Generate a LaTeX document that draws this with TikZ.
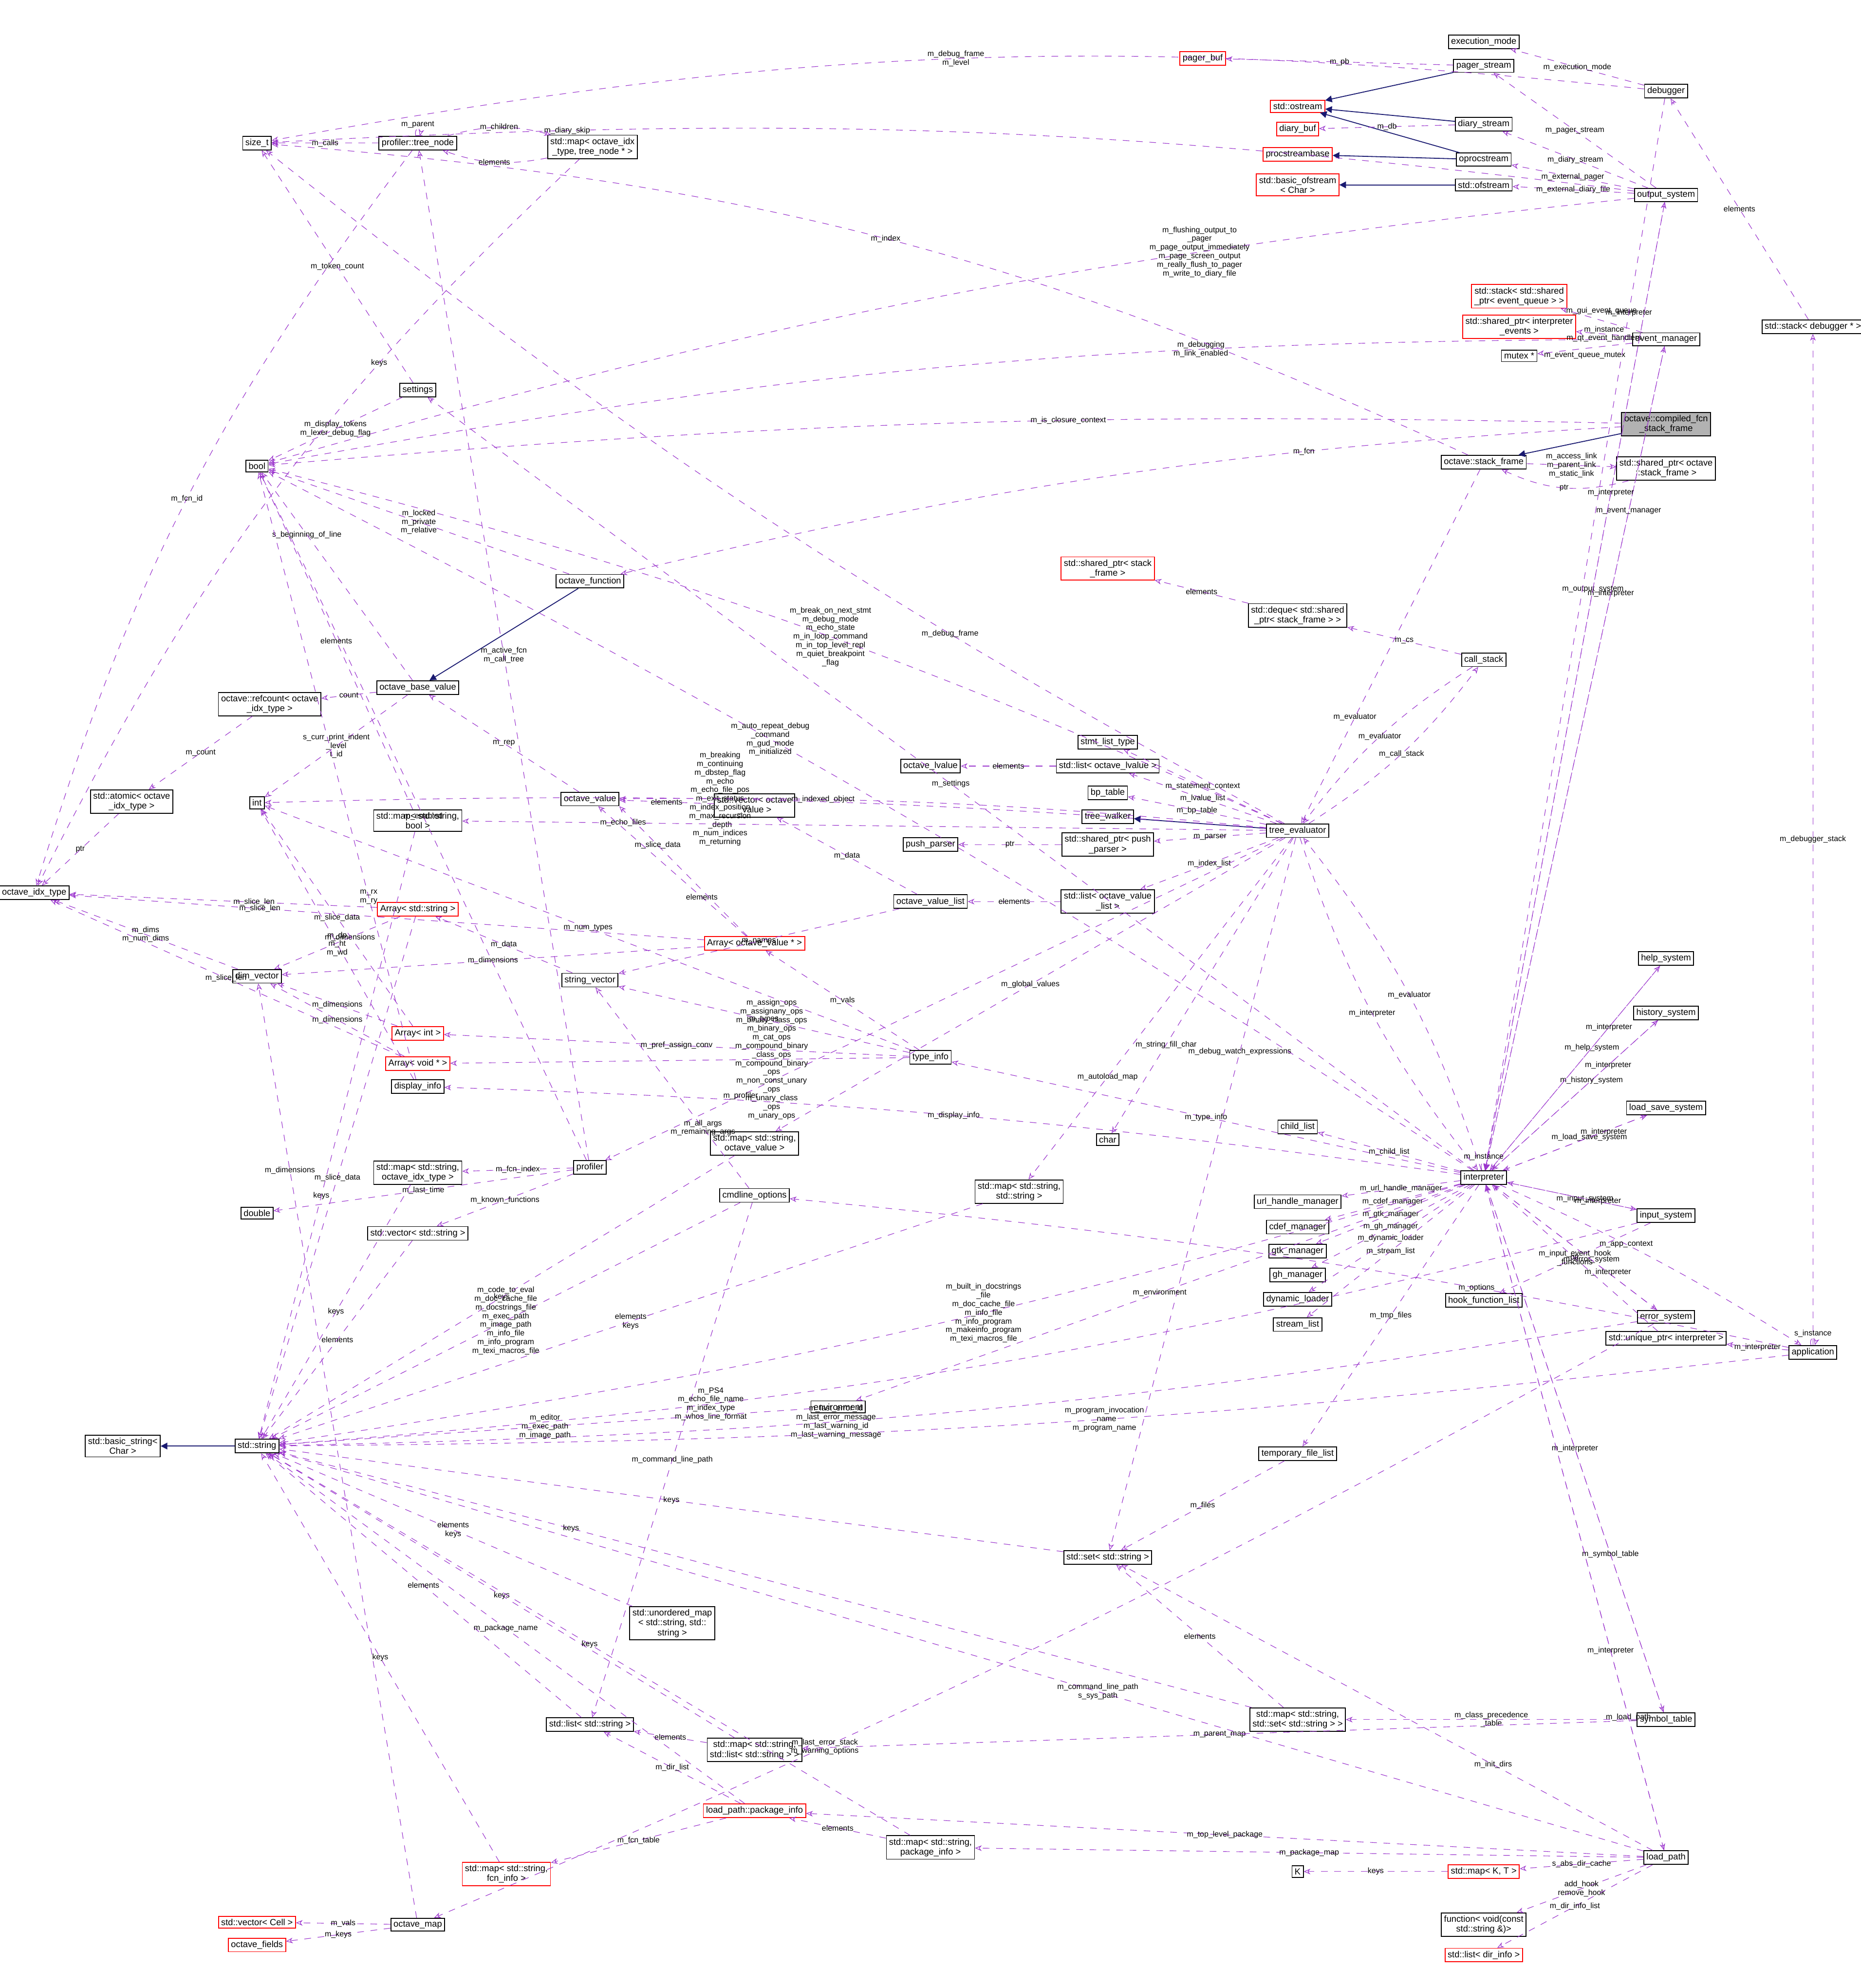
\documentclass[tikz,border=0pt]{standalone}
\usepackage{fontspec}
\setmainfont{Liberation Sans}
\usetikzlibrary{arrows.meta}
\definecolor{usecol}{RGB}{153,50,204}
\definecolor{inhcol}{RGB}{25,25,112}
\tikzset{
  cls/.style={draw=black,fill=white,inner sep=1.2pt,align=center,font=\fontsize{4}{4.4}\selectfont},
  redcls/.style={cls,draw=red},
  graycls/.style={cls,fill=black!30},
  use/.style={draw=usecol,dashed,line width=0.25pt,-{Stealth[open,length=3pt,width=2.5pt]}},
  inh/.style={draw=inhcol,line width=0.4pt,-{Triangle[length=3pt,width=3pt]}},
  lbl/.style={align=center,inner sep=0.5pt,font=\fontsize{3.5}{3.9}\selectfont,midway}
}
\begin{document}
\begin{tikzpicture}[x=0.02cm,y=-0.02cm]
\useasboundingbox (0,0) rectangle (1470,1570);
\begin{scope}[every node/.style={cls}]
  \node (exmode) at (1172,33) {execution\_mode};
  \node[redcls] (pagerbuf) at (950,46) {pager\_buf};
  \node (pagerstream) at (1172,52) {pager\_stream};
  \node (debugger) at (1316,72) {debugger};
  \node[redcls] (ostream) at (1025,84) {std::ostream};
  \node (diarystream) at (1172,98) {diary\_stream};
  \node[redcls] (diarybuf) at (1025,102) {diary\_buf};
  \node[redcls] (procbase) at (1025,122) {procstreambase};
  \node (oproc) at (1172,126) {oprocstream};
  \node[redcls] (basicofs) at (1025,146) {std::basic\_ofstream\\< Char >};
  \node (ofstream) at (1172,146) {std::ofstream};
  \node (outsys) at (1316,154) {output\_system};
  \node (sizet) at (203,113) {size\_t};
  \node (treenode) at (330,113) {profiler::tree\_node};
  \node (maptree) at (468,116) {std::map< octave\_idx\\\_type, tree\_node * >};
  \node[redcls] (stackeq) at (1200,234) {std::stack< std::shared\\\_ptr< event\_queue > >};
  \node[redcls] (shpevents) at (1200,258) {std::shared\_ptr< interpreter\\\_events >};
  \node (mutex) at (1200,281) {mutex *};
  \node (evmgr) at (1316,268) {event\_manager};
  \node (stackdbg) at (1432,258) {std::stack< debugger * >};
  \node[graycls] (compframe) at (1316,335) {octave::compiled\_fcn\\\_stack\_frame};
  \node (stackframe) at (1172,365) {octave::stack\_frame};
  \node (shpframe) at (1316,370) {std::shared\_ptr< octave\\::stack\_frame >};
  \node (settings) at (330,308) {settings};
  \node (bool) at (203,368) {bool};
  \node[redcls] (shpsf) at (875,449) {std::shared\_ptr< stack\\\_frame >};
  \node (deque) at (1025,486) {std::deque< std::shared\\\_ptr< stack\_frame > >};
  \node (callstack) at (1172,521) {call\_stack};
  \node (ovfcn) at (466,459) {octave\_function};
  \node (ovbase) at (330,543) {octave\_base\_value};
  \node (refcount) at (213,556) {octave::refcount< octave\\\_idx\_type >};
  \node (atomic) at (104,633) {std::atomic< octave\\\_idx\_type >};
  \node (int) at (203,634) {int};
  \node (idx) at (27,705) {octave\_idx\_type};
  \node (stmt) at (875,586) {stmt\_list\_type};
  \node (lvalue) at (735,605) {octave\_lvalue};
  \node (listlv) at (875,605) {std::list< octave\_lvalue >};
  \node (bptable) at (875,626) {bp\_table};
  \node (walker) at (875,645) {tree\_walker};
  \node (evaluator) at (1025,656) {tree\_evaluator};
  \node (ovalue) at (466,631) {octave\_value};
  \node (mapsb) at (330,648) {std::map< std::string,\\ bool >};
  \node (vecov) at (596,636) {std::vector< octave\\\_value >};
  \node (pushparser) at (735,667) {push\_parser};
  \node (shppp) at (875,667) {std::shared\_ptr< push\\\_parser >};
  \node (ovlist) at (735,712) {octave\_value\_list};
  \node (listovl) at (875,712) {std::list< octave\_value\\\_list >};
  \node[redcls] (arrovp) at (596,745) {Array< octave\_value * >};
  \node[redcls] (arrstr) at (330,718) {Array< std::string >};
  \node (strvec) at (466,774) {string\_vector};
  \node (dimvec) at (203,771) {dim\_vector};
  \node[redcls] (arrint) at (330,816) {Array< int >};
  \node[redcls] (arrvoid) at (330,840) {Array< void * >};
  \node (dispinfo) at (330,858) {display\_info};
  \node (typeinfo) at (735,835) {type\_info};
  \node (helpsys) at (1316,757) {help\_system};
  \node (histsys) at (1316,800) {history\_system};
  \node (char) at (875,900) {char};
  \node (childlist) at (1025,890) {child\_list};
  \node (lssys) at (1316,875) {load\_save\_system};
  \node (mapsov) at (596,903) {std::map< std::string,\\ octave\_value >};
  \node (interp) at (1172,930) {interpreter};
  \node (mapsidx) at (330,926) {std::map< std::string,\\ octave\_idx\_type >};
  \node (profiler) at (466,922) {profiler};
  \node (mapss) at (805,941) {std::map< std::string,\\ std::string >};
  \node (cmdopts) at (596,944) {cmdline\_options};
  \node (urlmgr) at (1025,949) {url\_handle\_manager};
  \node (double) at (203,958) {double};
  \node (vecstr) at (330,974) {std::vector< std::string >};
  \node (inputsys) at (1316,960) {input\_system};
  \node (cdefmgr) at (1025,969) {cdef\_manager};
  \node (gtkmgr) at (1025,988) {gtk\_manager};
  \node (ghmgr) at (1025,1007) {gh\_manager};
  \node (dynload) at (1025,1026) {dynamic\_loader};
  \node (hooklist) at (1172,1027) {hook\_function\_list};
  \node (errsys) at (1316,1040) {error\_system};
  \node (streamlist) at (1025,1046) {stream\_list};
  \node (uniqinterp) at (1316,1057) {std::unique\_ptr< interpreter >};
  \node (app) at (1432,1068) {application};
  \node (env) at (662,1111) {environment};
  \node (basicstr) at (97,1142) {std::basic\_string<\\ Char >};
  \node (string) at (203,1142) {std::string};
  \node (tmpfiles) at (1025,1148) {temporary\_file\_list};
  \node (setstr) at (875,1230) {std::set< std::string >};
  \node (umap) at (531,1282) {std::unordered\_map\\< std::string, std::\\string >};
  \node (liststr) at (466,1362) {std::list< std::string >};
  \node (mapsset) at (1025,1358) {std::map< std::string,\\ std::set< std::string > >};
  \node (symtab) at (1316,1358) {symbol\_table};
  \node (mapslist) at (596,1382) {std::map< std::string,\\ std::list< std::string > >};
  \node[redcls] (pkginfo) at (596,1430) {load\_path::package\_info};
  \node (mappkg) at (735,1459) {std::map< std::string,\\ package\_info >};
  \node[redcls] (mapfcn) at (400,1480) {std::map< std::string,\\ fcn\_info >};
  \node (K) at (1025,1478) {K};
  \node[redcls] (mapKT) at (1172,1478) {std::map< K, T >};
  \node (loadpath) at (1316,1467) {load\_path};
  \node (function) at (1172,1520) {function< void(const\\ std::string \&)>};
  \node (ovmap) at (330,1520) {octave\_map};
  \node[redcls] (veccell) at (203,1518) {std::vector< Cell >};
  \node[redcls] (ovfields) at (203,1536) {octave\_fields};
  \node[redcls] (listdir) at (1172,1544) {std::list< dir\_info >};
\end{scope}
% inheritance
\begin{scope}[every path/.style={inh}]
  \draw (pagerstream) -- (ostream);
  \draw (diarystream) -- (ostream);
  \draw (oproc) -- (ostream);
  \draw (oproc) -- (procbase);
  \draw (ofstream) -- (basicofs);
  \draw (compframe) -- (stackframe);
  \draw (evaluator) -- (walker);
  \draw (ovfcn) -- (ovbase);
  \draw (string) -- (basicstr);
\end{scope}
% usage
\begin{scope}[every path/.style={use}]
  \draw (debugger) -- node[lbl]{m\_execution\_mode} (exmode);
  \draw (pagerstream) -- node[lbl]{m\_pb} (pagerbuf);
  \draw (diarystream) -- node[lbl]{m\_db} (diarybuf);
  \draw (outsys) -- node[lbl]{m\_pager\_stream} (pagerstream);
  \draw (outsys) -- node[lbl]{m\_diary\_stream} (diarystream);
  \draw (outsys) -- node[lbl]{m\_external\_pager} (oproc);
  \draw (outsys) -- node[lbl]{m\_external\_diary\_file} (ofstream);
  \draw (debugger) to[bend right=8] node[lbl]{m\_debug\_frame\\m\_level} (sizet);
  \draw (outsys) to[bend right=5] node[lbl,pos=0.8]{m\_diary\_skip} (sizet);
  \draw (treenode) -- node[lbl]{m\_calls} (sizet);
  \draw (treenode) to[loop above,looseness=6] node[lbl]{m\_parent} (treenode);
  \draw (treenode) to[bend left=15] node[lbl]{m\_children} (maptree);
  \draw (maptree) to[bend left=15] node[lbl]{elements} (treenode);
  \draw (treenode) to[bend right=10] node[lbl]{m\_fcn\_id} (idx);
  \draw (maptree) to[bend right=10] node[lbl,pos=0.3]{keys} (idx);
  \draw (stackdbg) -- node[lbl]{elements} (debugger);
  \draw (app) -- node[lbl]{m\_debugger\_stack} (stackdbg);
  \draw (outsys) to[bend right=5] node[lbl,pos=0.3]{m\_flushing\_output\_to\\\_pager\\m\_page\_output\_immediately\\m\_page\_screen\_output\\m\_really\_flush\_to\_pager\\m\_write\_to\_diary\_file} (bool);
  \draw (evmgr) to[bend right=5] node[lbl,pos=0.3]{m\_debugging\\m\_link\_enabled} (bool);
  \draw (evmgr) -- node[lbl,above=2pt]{m\_gui\_event\_queue} (stackeq);
  \draw (evmgr) -- node[lbl]{m\_instance\\m\_qt\_event\_handlers} (shpevents);
  \draw (evmgr) -- node[lbl,below=1pt]{m\_event\_queue\_mutex} (mutex);
  \draw (evmgr) -- node[lbl,pos=0.3]{m\_interpreter} (interp);
  \draw (stackframe) -- node[lbl]{m\_access\_link\\m\_parent\_link\\m\_static\_link} (shpframe);
  \draw (shpframe) to[bend left=20] node[lbl]{ptr} (stackframe);
  \draw (stackframe) -- node[lbl,pos=0.7]{m\_evaluator} (evaluator);
  \draw (stackframe) to[bend right=10] node[lbl]{m\_index} (sizet);
  \draw (compframe) to[bend right=5] node[lbl,pos=0.3]{m\_fcn} (ovfcn);
  \draw (compframe) to[bend right=3] node[lbl,pos=0.4]{m\_is\_closure\_context} (bool);
  \draw (callstack) -- node[lbl]{m\_cs} (deque);
  \draw (deque) -- node[lbl]{elements} (shpsf);
  \draw (evaluator) to[bend right=10] node[lbl]{m\_call\_stack} (callstack);
  \draw (callstack) to[bend right=10] node[lbl]{m\_evaluator} (evaluator);
  \draw (evaluator) -- node[lbl]{m\_statement\_context} (stmt);
  \draw (evaluator) -- node[lbl]{m\_lvalue\_list} (listlv);
  \draw (listlv) -- node[lbl]{elements} (lvalue);
  \draw (evaluator) -- node[lbl]{m\_bp\_table} (bptable);
  \draw (evaluator) -- node[lbl]{m\_parser} (shppp);
  \draw (shppp) -- node[lbl]{ptr} (pushparser);
  \draw (evaluator) -- node[lbl]{m\_index\_list} (listovl);
  \draw (listovl) -- node[lbl]{elements} (ovlist);
  \draw (evaluator) to[bend right=10] node[lbl]{m\_interpreter} (interp);
  \draw (interp) to[bend right=10] node[lbl]{m\_evaluator} (evaluator);
  \draw (evaluator) to[bend right=3] node[lbl,pos=0.7]{m\_indexed\_object} (ovalue);
  \draw (evaluator) to[bend right=3] node[lbl,pos=0.55]{m\_breaking\\m\_continuing\\m\_dbstep\_flag\\m\_echo\\m\_echo\_file\_pos\\m\_exit\_status\\m\_index\_position\\m\_max\_recursion\\\_depth\\m\_num\_indices\\m\_returning} (int);
  \draw (evaluator) to[bend right=5] node[lbl,pos=0.45]{m\_break\_on\_next\_stmt\\m\_debug\_mode\\m\_echo\_state\\m\_in\_loop\_command\\m\_in\_top\_level\_repl\\m\_quiet\_breakpoint\\\_flag} (bool);
  \draw (evaluator) to[bend left=5] node[lbl,pos=0.3]{m\_debug\_frame} (sizet);
  \draw (evaluator) -- node[lbl,pos=0.3]{m\_debug\_watch\_expressions} (setstr);
  \draw (evaluator) -- node[lbl,pos=0.7]{m\_string\_fill\_char} (char);
  \draw (evaluator) -- node[lbl]{m\_global\_values} (mapsov);
  \draw (evaluator) -- node[lbl,pos=0.7]{m\_autoload\_map} (mapss);
  \draw (evaluator) -- node[lbl,pos=0.8]{m\_profiler} (profiler);
  \draw (evaluator) -- node[lbl,pos=0.8]{m\_echo\_files} (mapsb);
  \draw (interp) -- node[lbl]{m\_settings} (settings);
  \draw (settings) -- node[lbl]{m\_display\_tokens\\m\_lexer\_debug\_flag} (bool);
  \draw (settings) -- node[lbl]{m\_token\_count} (sizet);
  \draw (ovbase) -- node[lbl]{count} (refcount);
  \draw (refcount) -- node[lbl]{m\_count} (atomic);
  \draw (atomic) -- node[lbl]{ptr} (idx);
  \draw (ovfcn) -- node[lbl]{m\_locked\\m\_private\\m\_relative} (bool);
  \draw (ovbase) -- node[lbl]{s\_curr\_print\_indent\\\_level\\t\_id} (int);
  \draw (ovbase) -- node[lbl,pos=0.7]{s\_beginning\_of\_line} (bool);
  \draw (ovalue) -- node[lbl]{m\_rep} (ovbase);
  \draw (vecov) -- node[lbl]{elements} (ovalue);
  \draw (ovlist) -- node[lbl]{m\_data} (vecov);
  \draw (ovlist) -- node[lbl]{m\_names} (strvec);
  \draw (arrovp) -- node[lbl,pos=0.3]{elements} (ovalue);
  \draw (arrovp) -- node[lbl,pos=0.7]{m\_slice\_data} (ovalue.south east);
  \draw (arrovp) -- node[lbl]{m\_dimensions} (dimvec);
  \draw (arrovp) -- node[lbl,pos=0.7]{m\_slice\_len} (idx);
  \draw (arrstr) -- node[lbl]{m\_slice\_data} (string);
  \draw (arrstr) -- node[lbl,pos=0.4]{m\_dimensions} (dimvec);
  \draw (arrstr) -- node[lbl,pos=0.4]{m\_slice\_len} (idx);
  \draw (strvec) -- node[lbl]{m\_data} (arrstr);
  \draw (dimvec) -- node[lbl]{m\_dims\\m\_num\_dims} (idx);
  \draw (arrint) -- node[lbl]{m\_slice\_data} (int);
  \draw (arrint) -- node[lbl]{m\_dimensions} (dimvec);
  \draw (arrvoid) -- node[lbl]{m\_dimensions} (dimvec);
  \draw (arrvoid) -- node[lbl]{m\_slice\_len} (idx);
  \draw (typeinfo) -- node[lbl]{m\_pref\_assign\_conv} (arrint);
  \draw (typeinfo) -- node[lbl,pos=0.3]{m\_assign\_ops\\m\_assignany\_ops\\m\_binary\_class\_ops\\m\_binary\_ops\\m\_cat\_ops\\m\_compound\_binary\\\_class\_ops\\m\_compound\_binary\\\_ops\\m\_non\_const\_unary\\\_ops\\m\_unary\_class\\\_ops\\m\_unary\_ops} (arrvoid);
  \draw (typeinfo) -- node[lbl]{m\_vals} (arrovp);
  \draw (typeinfo) -- node[lbl]{m\_types} (strvec);
  \draw (typeinfo) -- node[lbl]{m\_num\_types} (int);
  \draw (dispinfo) -- node[lbl]{m\_dp\\m\_ht\\m\_wd} (int);
  \draw (dispinfo) -- node[lbl,pos=0.3]{m\_rx\\m\_ry} (bool);
  \draw (interp) to[bend right=3] node[lbl]{m\_display\_info} (dispinfo);
  \draw (interp) -- node[lbl]{m\_type\_info} (typeinfo);
  \draw (profiler) -- node[lbl]{m\_active\_fcn\\m\_call\_tree} (treenode);
  \draw (profiler) -- node[lbl]{m\_fcn\_index} (mapsidx);
  \draw (profiler) -- node[lbl]{m\_known\_functions} (vecstr);
  \draw (profiler) -- node[lbl]{m\_last\_time} (double);
  \draw (profiler) -- node[lbl]{m\_enabled} (bool);
  \draw (mapsidx) -- node[lbl]{keys} (string);
  \draw (vecstr) -- node[lbl]{elements} (string);
  \draw (mapsb) -- node[lbl,pos=0.6]{keys} (string);
  \draw (mapsb) -- node[lbl]{elements} (bool);
  \draw (mapsov) -- node[lbl]{keys} (string);
  \draw (mapss) -- node[lbl]{elements\\keys} (string);
  \draw (cmdopts) -- node[lbl,pos=0.3]{m\_all\_args\\m\_remaining\_args} (strvec);
  \draw (cmdopts) -- node[lbl]{m\_code\_to\_eval\\m\_doc\_cache\_file\\m\_docstrings\_file\\m\_exec\_path\\m\_image\_path\\m\_info\_file\\m\_info\_program\\m\_texi\_macros\_file} (string);
  \draw (cmdopts) -- node[lbl]{m\_command\_line\_path} (liststr);
  \draw (interp) -- node[lbl]{m\_child\_list} (childlist);
  \draw (interp) -- node[lbl]{m\_url\_handle\_manager} (urlmgr);
  \draw (interp) -- node[lbl]{m\_cdef\_manager} (cdefmgr);
  \draw (interp) -- node[lbl]{m\_gtk\_manager} (gtkmgr);
  \draw (interp) -- node[lbl]{m\_gh\_manager} (ghmgr);
  \draw (interp) -- node[lbl]{m\_dynamic\_loader} (dynload);
  \draw (interp) -- node[lbl]{m\_stream\_list} (streamlist);
  \draw (interp) -- node[lbl]{m\_tmp\_files} (tmpfiles);
  \draw (interp) -- node[lbl]{m\_environment} (env);
  \draw (interp) -- node[lbl,pos=0.6]{m\_help\_system} (helpsys);
  \draw (interp) -- node[lbl,pos=0.6]{m\_history\_system} (histsys);
  \draw (interp) -- node[lbl,pos=0.6]{m\_load\_save\_system} (lssys);
  \draw (interp) -- node[lbl,pos=0.6]{m\_input\_system} (inputsys);
  \draw (interp) -- node[lbl,pos=0.6]{m\_error\_system} (errsys);
  \draw (interp) -- node[lbl,pos=0.6]{m\_output\_system} (outsys);
  \draw (interp) -- node[lbl,pos=0.8]{m\_event\_manager} (evmgr);
  \draw (interp) -- node[lbl,pos=0.7]{m\_symbol\_table} (symtab);
  \draw (interp) -- node[lbl,pos=0.8]{m\_load\_path} (loadpath);
  \draw (interp) to[loop above,looseness=8] node[lbl]{m\_instance} (interp);
  \draw (interp) to[bend left=4] node[lbl,pos=0.4]{m\_app\_context} (app);
  \draw (interp) to[bend right=3] node[lbl,pos=0.6]{m\_auto\_repeat\_debug\\\_command\\m\_gud\_mode\\m\_initialized} (bool);
  \draw (interp) to[bend left=4] node[lbl,pos=0.4]{m\_built\_in\_docstrings\\\_file\\m\_doc\_cache\_file\\m\_info\_file\\m\_info\_program\\m\_makeinfo\_program\\m\_texi\_macros\_file} (string);
  \draw (helpsys) -- node[lbl,pos=0.3]{m\_interpreter} (interp);
  \draw (histsys) -- node[lbl,pos=0.3]{m\_interpreter} (interp);
  \draw (lssys) -- node[lbl,pos=0.3]{m\_interpreter} (interp);
  \draw (inputsys) -- node[lbl,pos=0.3]{m\_interpreter} (interp);
  \draw (errsys) -- node[lbl,pos=0.3]{m\_interpreter} (interp);
  \draw (outsys) -- node[lbl,pos=0.3]{m\_interpreter} (interp);
  \draw (symtab) -- node[lbl]{m\_interpreter} (interp);
  \draw (loadpath) -- node[lbl,pos=0.3]{m\_interpreter} (interp);
  \draw (debugger) -- node[lbl,pos=0.2]{m\_interpreter} (interp);
  \draw (inputsys) -- node[lbl]{m\_input\_event\_hook\\\_functions} (hooklist);
  \draw (inputsys) to[bend left=5] node[lbl,pos=0.7]{m\_PS4\\m\_echo\_file\_name\\m\_index\_type\\m\_whos\_line\_format} (string);
  \draw (errsys) to[bend left=4] node[lbl,pos=0.6]{m\_last\_error\_id\\m\_last\_error\_message\\m\_last\_warning\_id\\m\_last\_warning\_message} (string);
  \draw (errsys) to[bend left=3] node[lbl,pos=0.7]{m\_last\_error\_stack\\m\_warning\_options} (ovmap);
  \draw (uniqinterp) -- node[lbl]{ptr} (interp);
  \draw (app) -- node[lbl]{m\_interpreter} (uniqinterp);
  \draw (app) to[loop above,looseness=6] node[lbl]{s\_instance} (app);
  \draw (app) to[bend right=3] node[lbl,pos=0.3]{m\_options} (cmdopts);
  \draw (app) to[bend left=3] node[lbl,pos=0.45]{m\_program\_invocation\\\_name\\m\_program\_name} (string);
  \draw (env) -- node[lbl]{m\_editor\\m\_exec\_path\\m\_image\_path} (string);
  \draw (tmpfiles) -- node[lbl]{m\_files} (setstr);
  \draw (setstr) -- node[lbl]{keys} (string);
  \draw (umap) -- node[lbl]{elements\\keys} (string);
  \draw (liststr) -- node[lbl]{elements} (string);
  \draw (mapsset) -- node[lbl]{elements} (setstr);
  \draw (mapsset) -- node[lbl,pos=0.7]{keys} (string);
  \draw (symtab) -- node[lbl]{m\_class\_precedence\\\_table} (mapsset);
  \draw (symtab) -- node[lbl]{m\_parent\_map} (mapslist);
  \draw (mapslist) -- node[lbl]{elements} (liststr);
  \draw (mapslist) -- node[lbl]{keys} (string);
  \draw (loadpath) -- node[lbl]{m\_top\_level\_package} (pkginfo);
  \draw (pkginfo) -- node[lbl]{m\_package\_name} (string);
  \draw (pkginfo) -- node[lbl]{m\_dir\_list} (liststr);
  \draw (pkginfo) -- node[lbl]{m\_fcn\_table} (mapfcn);
  \draw (mappkg) -- node[lbl]{elements} (pkginfo);
  \draw (mappkg) -- node[lbl]{keys} (string);
  \draw (loadpath) -- node[lbl]{m\_package\_map} (mappkg);
  \draw (mapfcn) -- node[lbl]{keys} (string);
  \draw (loadpath) -- node[lbl]{s\_abs\_dir\_cache} (mapKT);
  \draw (mapKT) -- node[lbl]{keys} (K);
  \draw (loadpath) -- node[lbl]{add\_hook\\remove\_hook} (function);
  \draw (loadpath) -- node[lbl]{m\_dir\_info\_list} (listdir);
  \draw (loadpath) -- node[lbl,pos=0.4]{m\_command\_line\_path\\s\_sys\_path} (string);
  \draw (loadpath) -- node[lbl,pos=0.3]{m\_init\_dirs} (setstr);
  \draw (ovmap) -- node[lbl]{m\_vals} (veccell);
  \draw (ovmap) -- node[lbl]{m\_keys} (ovfields);
  \draw (ovmap) -- node[lbl,pos=0.8]{m\_dimensions} (dimvec);
\end{scope}
\end{tikzpicture}
\end{document}
